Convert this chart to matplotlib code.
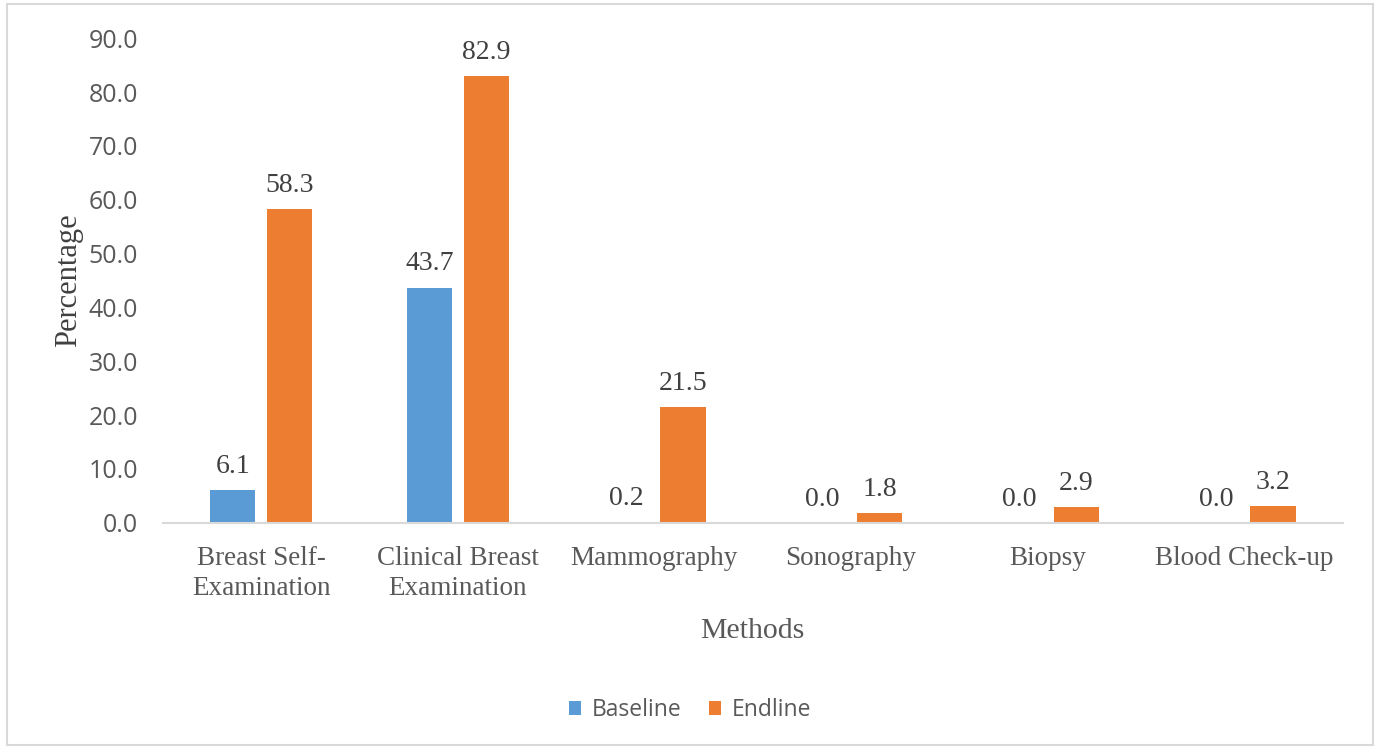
import numpy as np
import matplotlib.pyplot as plt
from matplotlib.patches import Rectangle

methods = ['Breast Self-\nExamination', 'Clinical Breast\nExamination', 'Mammography',
           'Sonography', 'Biopsy', 'Blood Check-up']
baseline = [6.1, 43.7, 0.2, 0.0, 0.0, 0.0]
endline = [58.3, 82.9, 21.5, 1.8, 2.9, 3.2]

blue = '#5B9BD5'
orange = '#ED7D31'
grey = '#595959'

fig = plt.figure(figsize=(13.8, 7.48), dpi=100)
ax = fig.add_axes([0.118, 0.301, 0.855, 0.648])

x = np.arange(len(methods))
w = 0.23
off = 0.145
b1 = ax.bar(x - off, baseline, w, color=blue, label='Baseline')
b2 = ax.bar(x + off, endline, w, color=orange, label='Endline')

for bars in (b1, b2):
    for r in bars:
        h = r.get_height()
        ax.annotate(f'{h:.1f}', (r.get_x() + r.get_width() / 2, h),
                    xytext=(0, 8), textcoords='offset points',
                    ha='center', va='bottom', family='Liberation Serif',
                    fontsize=20, color='#404040')

ax.set_ylim(0, 90)
ax.set_xlim(-0.5, len(methods) - 0.5)
ax.set_yticks(np.arange(0, 91, 10))
ax.set_yticklabels([f'{v:.1f}' for v in range(0, 91, 10)],
                   family='Open Sans', fontsize=18, color=grey)
ax.set_xticks(x)
ax.set_xticklabels(methods, family='Liberation Serif', fontsize=19.5,
                   color=grey, linespacing=1.25)
ax.tick_params(axis='both', length=0)
ax.tick_params(axis='x', pad=17)
ax.tick_params(axis='y', pad=18)

for s in ('top', 'right', 'left'):
    ax.spines[s].set_visible(False)
ax.spines['bottom'].set_color('#D9D9D9')
ax.spines['bottom'].set_linewidth(1.5)

ax.set_ylabel('Percentage', family='Liberation Serif', fontsize=22, color='#404040', labelpad=4)
ax.set_xlabel('Methods', family='Liberation Serif', fontsize=21.5, color=grey, labelpad=12)

leg = fig.legend(handles=[b1, b2], loc='center', bbox_to_anchor=(0.5, 0.051), ncol=2,
                 frameon=False, prop={'family': 'Open Sans', 'size': 16.5},
                 handlelength=0.55, handleheight=0.55, handletextpad=0.45, columnspacing=1.2)
for t in leg.get_texts():
    t.set_color(grey)

fig.patches.append(Rectangle((0.005, 0.004), 0.99, 0.99, transform=fig.transFigure,
                             fill=False, edgecolor='#D9D9D9', linewidth=1.5))

fig.savefig('out.png', dpi=100)
